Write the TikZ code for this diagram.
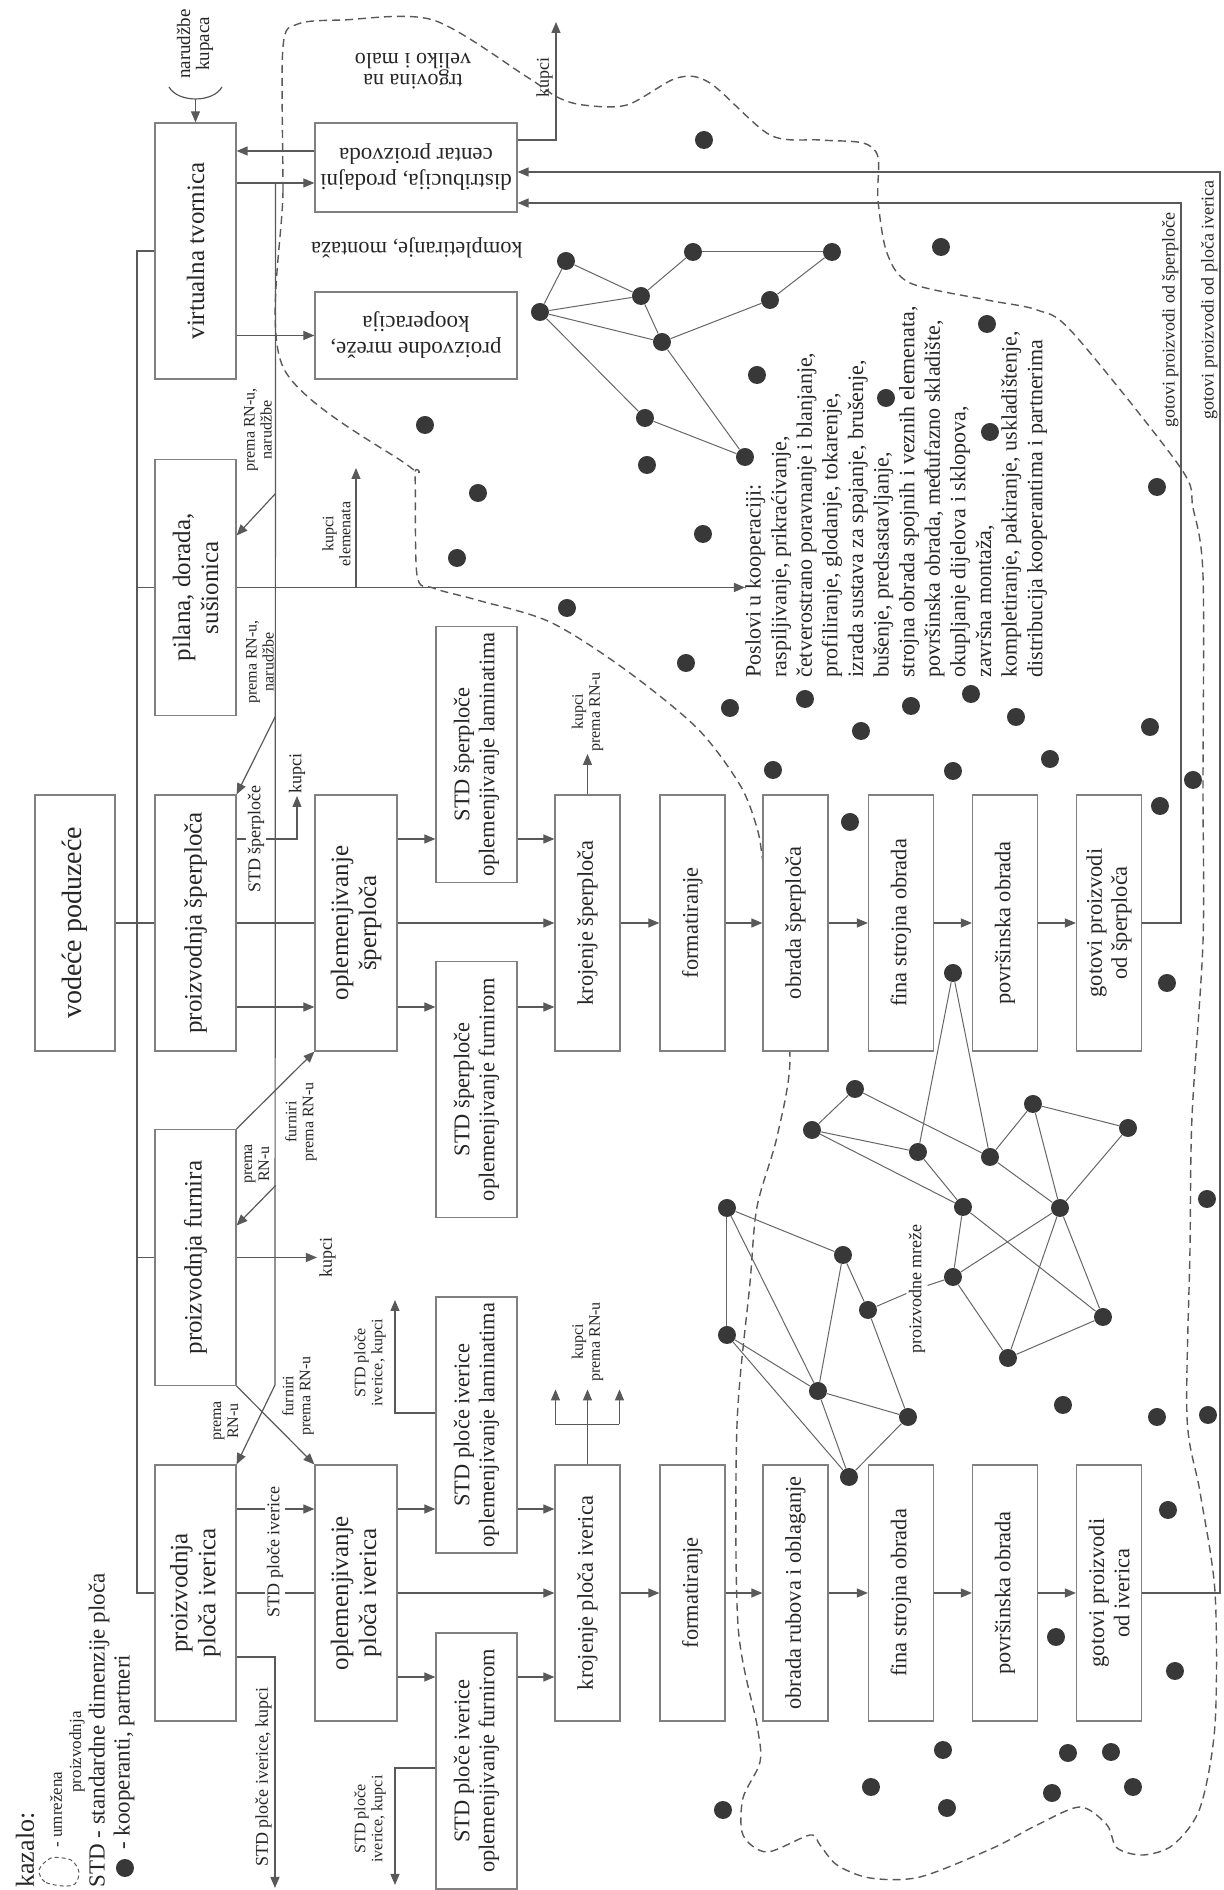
\documentclass[tikz,border=0pt]{standalone}
\usepackage{fontspec}
\setmainfont{Liberation Serif}
\usetikzlibrary{arrows.meta,calc}

\begin{document}
\begin{tikzpicture}[x=0.5pt,y=0.5pt,
  Ln/.style={draw=black!65, line width=0.6pt},
  Arr/.style={Ln, -{Triangle[length=5.5pt,width=4.5pt]}},
  Box/.style={draw=black!50, line width=0.6pt, fill=white, text=black!85, align=center,
    inner sep=1pt, minimum width=128pt, minimum height=40.5pt, font=\fontsize{11.2}{12.6}\selectfont},
  BoxT/.style={Box, font=\fontsize{12.5}{14}\selectfont},
  BoxS/.style={Box, minimum height=32.5pt},
  Lbl/.style={inner sep=1pt, align=center, text=black!85, font=\fontsize{9}{9.5}\selectfont},
  LblS/.style={Lbl, font=\fontsize{8}{8.5}\selectfont},
  Dot/.style={circle, fill=black!78, inner sep=0pt, minimum size=9pt},
  Web/.style={draw=black!60, line width=0.5pt},
  Zone/.style={draw=black!65, line width=0.7pt, dash pattern=on 4pt off 2.5pt}]
\begin{scope}[rotate=90, transform shape]
\useasboundingbox (0,0) rectangle (1890,1223);

% umrezena proizvodnja
\draw[Zone] plot[smooth cycle, tension=0.5] coordinates {
  (1523,940) (1700,940) (1843,940) (1866,925) (1870,880) (1870,790) (1813,696)
  (1793,666) (1785,640) (1785,596) (1812,546) (1807,513) (1755,453) (1750,403)
  (1747,360) (1733,345) (1690,345) (1637,336) (1607,313) (1590,236) (1580,186)
  (1557,150) (1423,43) (1382,30) (1315,20) (1100,20) (948,20) (773,31) (640,33)
  (473,36) (398,23) (298,8) (165,8) (82,23) (45,50) (35,80) (42,106) (65,116)
  (83,143) (65,186) (42,230) (13,303) (12,353) (25,386) (45,403) (55,413) (38,456)
  (55,480) (92,480) (128,463) (165,466) (265,485) (465,486) (607,473) (683,466)
  (753,446) (833,433) (940,448) (1028,460) (1062,466) (1105,483) (1162,526)
  (1222,600) (1268,673) (1290,746) (1302,790) (1315,806) (1415,808) (1423,813)};

% kooperanti i proizvodne mreze
\foreach \n/\x/\y in {a1/1629/657, a2/1638/530, a3/1578/683, a4/1594/582, a5/1548/561,
  a6/1590/453, a7/1472/578, a8/1433/478, a9/1638/391,
  b1/682/496, b2/555/496, b3/499/405, b4/760/411, b5/917/270, b6/801/368, b7/738/305,
  b8/733/233, b9/786/190, b10/762/95, b11/683/260, b12/682/163, b13/635/380, b14/613/270,
  b15/580/355, b16/573/120, b17/532/215, b18/473/315, b19/413/374}
  \node[Dot] (\n) at (\x,\y) {};
\foreach \u/\v in {a1/a3, a1/a4, a3/a4, a3/a5, a4/a5, a4/a2, a5/a6, a3/a7, a7/a8, a5/a8,
  a2/a9, a6/a9,
  b5/b7, b5/b8, b6/b8, b4/b6, b4/b7, b4/b11, b7/b11, b8/b9, b8/b12, b9/b10, b9/b12,
  b10/b12, b11/b14, b11/b16, b12/b14, b12/b17, b12/b16, b14/b17, b17/b16, b1/b13,
  b13/b15, b13/b3, b15/b18, b3/b18, b1/b2, b1/b3, b2/b3, b2/b19, b3/b19, b18/b19}
  \draw[Web] (\u) -- (\v);
\foreach \x/\y [count=\k] in {1750/519, 1515/466, 1465/798, 1425/576, 1643/282, 1566/236,
  1492/337, 1458/233, 1397/745, 1332/766, 1356/520, 1282/656, 1227/537, 1182/493,
  1120/450, 1191/418, 1403/66, 1159/362, 1184/312, 1196/252, 1173/207, 1119/270,
  1131/173, 1068/373, 1163/73, 1110/30, 1084/63, 907/56, 691/16, 485/160, 473/66,
  475/15, 380/55, 253/167, 219/48, 140/280, 137/155, 138/112, 103/352, 82/276,
  97/171, 103/90, 80/500}
  \node[Dot] (k\k) at (\x,\y) {};
\node[Lbl] (mrL) at (601,306) {proizvodne mreže};
\draw[Web] (b15) -- (mrL);
\draw[Web] (b14) -- (mrL);

% poduzeca i pogoni
\node[BoxT] (virt) at (1639,1027.5) {virtualna tvornica};
\node[BoxT] (pil) at (1302.5,1027.5) {pilana, dorada,\\sušionica};
\node[BoxT] (psper) at (967,1027.5) {proizvodnja šperploča};
\node[BoxT] (pfur) at (632.5,1027.5) {proizvodnja furnira};
\node[BoxT] (piver) at (297,1027.5) {proizvodnja\\ploča iverica};
\node[Box, minimum height=40pt, font=\fontsize{14}{16}\selectfont] (vod) at (967,1148) {vodeće poduzeće};
\node[BoxT, minimum height=41pt] (osper) at (967,867) {oplemenjivanje\\šperploča};
\node[BoxT, minimum height=41pt] (oiver) at (297,867) {oplemenjivanje\\ploča iverica};
\node[Box, rotate=90, minimum width=101pt, minimum height=44.5pt,
  font=\fontsize{11.5}{13}\selectfont] (dist) at (1722.5,807) {distribucija, prodajni\\centar proizvoda};
\node[Box, rotate=90, minimum width=101pt, minimum height=43.5pt,
  font=\fontsize{11.5}{13}\selectfont] (mreza) at (1554.5,807) {proizvodne mreže,\\kooperacija};
\node[Box] (slam) at (1135.5,746.5) {STD šperploče\\oplemenjivanje laminatima};
\node[Box] (sfur) at (800.5,746.5) {STD šperploče\\oplemenjivanje furnirom};
\node[Box] (ilam) at (465,746.5) {STD ploče iverice\\oplemenjivanje laminatima};
\node[Box] (ifur) at (129,746.5) {STD ploče iverice\\oplemenjivanje furnirom};
\foreach \n/\y/\ts/\ti in {kroj/635.5/krojenje šperploča/krojenje ploča iverica,
  form/530.5/formatiranje/formatiranje, obr/427.5/obrada šperploča/obrada rubova i oblaganje,
  fina/322/fina strojna obrada/fina strojna obrada, povr/218/površinska obrada/površinska obrada,
  got/114/{gotovi proizvodi\\od šperploča}/{gotovi proizvodi\\od iverica}}
{
  \node[BoxS] (s\n) at (967,\y) {\ts};
  \node[BoxS] (i\n) at (297,\y) {\ti};
}
\node[Lbl, anchor=north west, align=left, inner sep=0pt, font=\fontsize{11}{12.8}\selectfont]
  (posl) at (1212,478) {Poslovi u kooperaciji:\\
  raspiljivanje, prikraćivanje,\\
  četverostrano poravnanje i blanjanje,\\
  profiliranje, glodanje, tokarenje,\\
  izrada sustava za spajanje, brušenje,\\
  bušenje, predsastavljanje,\\
  strojna obrada spojnih i veznih elemenata,\\
  površinska obrada, međufazno skladište,\\
  okupljanje dijelova i sklopova,\\
  završna montaža,\\
  kompletiranje, pakiranje, uskladištenje,\\
  distribucija kooperantima i partnerima};

% veze
\coordinate (bus) at (1639,1086);
\draw[Ln] (virt.north) -- (bus) -- (bus -| piver.north) -- (piver.north);
\foreach \b in {pil,psper,pfur} \draw[Ln] (\b.north) -- (\b.north |- bus);
\draw[Ln] (vod) -- (psper);

\node[Lbl, font=\fontsize{9.5}{9.5}\selectfont] (narL) at (1846,1028) {narudžbe\\kupaca};
\coordinate (nar1) at (1803,1054);
\coordinate (nar2) at (1803,1001);
\coordinate (narT) at (1791,1027.5);
\draw[Ln] (nar1) .. controls (1787,1045) and (1787,1010) .. (nar2);
\draw[Arr] (narT) -- (virt.east);

\draw[Arr] ($(dist.east)+(16.5,0)$) -- ($(virt.south)+(100,0)$);
\draw[Arr] ($(virt.south)+(68,0)$) -- ($(dist.east)+(-15.5,0)$);
\draw[Arr] (virt.south -| mreza.east) -- (mreza.east);
\node[Lbl, anchor=south] (kDL) at (1812,668) {kupci};
\coordinate (kD) at (1868,667);
\draw[Arr] ($(dist.west)+(27.5,0)$) |- (kD);

\coordinate (rn0) at ($(virt.south)+(68,-39)$);
\coordinate (rn1) at (505,948);
\draw[Arr] (rn0) -- (rn1) -- (piver.south east);
\draw[Arr] ($(pil.south)+(94,-39)$) -- ($(pil.south)+(52,0)$);
\draw[Arr] (pil.south west |- rn0) -- (psper.south east);
\draw[Arr] ($(pfur.south)+(72,-39)$) -- ($(pfur.south)+(32,0)$);
\draw[Arr] (pfur.south east) -- (osper.north west);
\draw[Arr] (pfur.south west) -- (oiver.north east);
\node[Lbl, anchor=north] (kF) at (632.5,906) {kupci};
\draw[Arr] (pfur.south) -- (kF.north);

\draw[Arr] (pil.south) -- (pil.south |- posl.north);
\coordinate (kE) at (1422,867);
\draw[Arr] (pil.south |- kE) -- (kE);
\node[LblS, anchor=south] (kEL) at (1356,870) {kupci\\elemenata};

\coordinate (sL) at (883,0);
\coordinate (sR) at (1051,0);
\coordinate (iL) at (213,0);
\coordinate (iR) at (381,0);
\draw[Ln] (psper) -- (osper);
\draw[Arr] (osper) -- (skroj);
\draw[Arr] (psper.south -| sL) -- (osper.north -| sL);
\draw[Arr] (osper.south -| sL) -- (sfur.north -| sL);
\draw[Arr] (osper.south -| sR) -- (slam.north -| sR);
\draw[Arr] (sfur.south -| sL) -- (skroj.north -| sL);
\draw[Arr] (slam.south -| sR) -- (skroj.north -| sR);
\node[Lbl, anchor=west] (kS) at (1094,926) {kupci};
\draw[Arr] (psper.south -| sR) |- (kS.west);
\node[Lbl, fill=white] (stdS) at (1051,967) {STD šperploče};

\draw[Ln] (piver) -- (oiver);
\draw[Arr] (oiver) -- (ikroj);
\draw[Arr] (piver.south -| iR) -- (oiver.north -| iR);
\draw[Arr] (oiver.south -| iR) -- (ilam.north -| iR);
\draw[Arr] (oiver.south -| iL) -- (ifur.north -| iL);
\draw[Arr] (ilam.south -| iR) -- (ikroj.north -| iR);
\draw[Arr] (ifur.south -| iL) -- (ikroj.north -| iL);
\node[Lbl, fill=white] (stdI) at (338,948) {STD ploče iverice};
\coordinate (kI0) at (2,948);
\draw[Arr] ($(piver.south)+(-64,0)$) |- (kI0);
\node[Lbl, anchor=south] (kI0L) at (113,949) {STD ploče iverice, kupci};
\coordinate (kI1) at (590,828);
\draw[Arr] ($(ilam.north)+(12,0)$) |- (kI1);
\node[LblS] (kI1L) at (527,853) {STD ploče\\iverice, kupci};
\coordinate (kI2) at (5,828);
\draw[Arr] ($(ifur.north)+(-7,0)$) |- (kI2);
\node[LblS] (kI2L) at (71,853) {STD ploče\\iverice, kupci};

\foreach \a/\b in {kroj/form, form/obr, obr/fina, fina/povr, povr/got}
{
  \draw[Arr] (s\a) -- (s\b);
  \draw[Arr] (i\a) -- (i\b);
}
\node[LblS, anchor=west] (kK) at (1136,635.5) {kupci\\prema RN-u};
\draw[Arr] (skroj.east) -- (kK.west);
\draw[Ln] (ikroj.east) -- ++(40,0) coordinate (kb);
\draw[Ln] ($(kb)+(0,-32)$) -- ($(kb)+(0,32)$);
\foreach \d in {-32,0,32} \draw[Arr] ($(kb)+(0,\d)$) -- ++(35,0);
\node[LblS, anchor=west] (kKI) at (506,635.5) {kupci\\prema RN-u};

\coordinate (gS) at (1687,42);
\coordinate (gI) at (1718,3);
\draw[Arr] (sgot.south) |- (gS) -- (gS |- dist.west);
\draw[Arr] (igot.south) |- (gI) -- (gI |- dist.west);
\node[Lbl, anchor=south east] (gSL) at (1680,42) {gotovi proizvodi od šperploče};
\node[Lbl, anchor=south east] (gIL) at (1712,3) {gotovi proizvodi od ploča iverica};

% natpisi
\node[LblS] (rnL1) at (1460,965) {prema RN-u,\\narudžbe};
\node[LblS] (rnL2) at (1228,963) {prema RN-u,\\narudžbe};
\node[LblS] (rnL3) at (726,966) {prema\\RN-u};
\node[LblS] (rnL4) at (469,997) {prema\\RN-u};
\node[LblS] (fuL1) at (768,922) {furniri\\prema RN-u};
\node[LblS] (fuL2) at (494,925) {furniri\\prema RN-u};
\node[Lbl, rotate=90, font=\fontsize{11.2}{12}\selectfont] (kompl) at (1642,806) {kompletiranje, montaža};
\node[Lbl, rotate=90, font=\fontsize{11}{10.5}\selectfont] (trg) at (1819,810) {trgovina na\\veliko i malo};

% kazalo
\node[anchor=west, inner sep=0pt, text=black!85, font=\fontsize{13}{13}\selectfont] (kaz) at (2,1198) {kazalo:};
\draw[Zone, line width=0.5pt, dash pattern=on 2pt off 1.5pt] plot[smooth cycle]
  coordinates {(4,1160) (8,1178) (20,1184) (32,1172) (30,1152) (18,1144) (6,1148)};
\node[Lbl, anchor=west, font=\fontsize{8.5}{8.5}\selectfont] (lg1) at (40,1167) {- umrežena};
\node[Lbl, anchor=west, font=\fontsize{8.5}{8.5}\selectfont] (lg2) at (95,1146) {proizvodnja};
\node[Lbl, anchor=west, font=\fontsize{11.5}{11.5}\selectfont] (lg3) at (0,1124) {STD - standardne dimenzije ploča};
\node[Dot] (lgd) at (22,1098) {};
\node[Lbl, anchor=west, font=\fontsize{11.5}{11.5}\selectfont] (lg4) at (38,1099) {- kooperanti, partneri};
\end{scope}
\end{tikzpicture}
\end{document}
